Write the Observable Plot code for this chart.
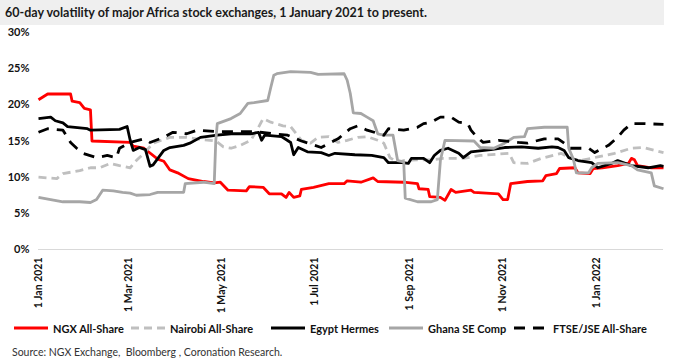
<!DOCTYPE html>
<html><head><meta charset="utf-8">
<script src="https://cdn.jsdelivr.net/npm/d3@7"></script>
<script src="https://cdn.jsdelivr.net/npm/@observablehq/plot@0.6"></script>
<style>
body{margin:0;background:#fff;font-family:Lato,sans-serif;}
#wrap{position:relative;width:681px;height:364px;overflow:hidden;}
#title{position:absolute;left:0;top:0;width:664px;height:25px;background:#efefef;font-weight:bold;font-size:12.5px;line-height:26px;padding-left:5px;box-sizing:border-box;color:#1a1a1a;white-space:nowrap;}
#chart{position:absolute;left:0;top:25px;}
#legend{position:absolute;top:319px;left:0;width:681px;height:18px;}
.item{position:absolute;top:0;display:flex;align-items:center;height:18px;font-weight:bold;font-size:11px;color:#111;white-space:nowrap;}
.item svg{margin-right:5px;}
#source{position:absolute;left:12px;top:346px;font-size:10.5px;color:#333;white-space:nowrap;}
</style></head>
<body>
<div id="wrap">
  <div id="title">60-day volatility of major Africa stock exchanges, 1 January 2021 to present.</div>
  <div id="chart"></div>
  <div id="legend"></div>
  <div id="source">Source: NGX Exchange,&nbsp; Bloomberg , Coronation Research.</div>
</div>
<script>
// ---- data (percent) ----
const seriesNames = ["NGX All-Share", "Nairobi All-Share", "Egypt Hermes", "Ghana SE Comp", "FTSE/JSE All-Share"];

const ngxDates = ["2021-01-01","2021-01-07","2021-01-22","2021-01-23","2021-01-28","2021-01-31","2021-02-04","2021-02-05","2021-03-02","2021-03-04","2021-03-11","2021-03-20","2021-03-24","2021-03-28","2021-04-02","2021-04-09","2021-04-19","2021-04-26","2021-04-30","2021-05-05","2021-05-17","2021-05-19","2021-05-28","2021-06-01","2021-06-09","2021-06-12","2021-06-14","2021-06-17","2021-06-21","2021-06-22","2021-06-30","2021-07-10","2021-07-20","2021-07-22","2021-07-31","2021-08-08","2021-08-11","2021-08-28","2021-09-06","2021-09-07","2021-09-13","2021-09-14","2021-09-21","2021-09-24","2021-09-28","2021-10-01","2021-10-11","2021-10-13","2021-10-29","2021-11-01","2021-11-04","2021-11-06","2021-11-17","2021-11-27","2021-11-29","2021-12-06","2021-12-08","2021-12-18","2021-12-20","2021-12-28","2021-12-30","2022-01-05","2022-01-15","2022-01-22","2022-01-24","2022-01-26","2022-01-28","2022-02-06","2022-02-14"];
const ngxValues = [20.7,21.5,21.5,20.5,20.3,19.5,19.3,15.0,14.8,14.3,14.0,12.5,12.2,11.0,10.6,9.8,9.4,9.2,9.3,8.2,8.1,8.7,8.6,7.7,7.7,7.2,7.9,7.2,7.4,8.3,8.6,9.1,9.1,9.5,9.3,9.9,9.4,9.3,9.1,8.4,8.3,7.3,7.2,6.8,8.3,7.9,8.2,7.9,7.7,6.9,6.9,9.1,9.4,9.5,10.2,10.5,11.2,11.3,10.6,10.5,11.2,11.3,11.6,11.9,12.6,12.4,11.6,11.3,11.3];

const nairobiDates = ["2021-01-01","2021-01-13","2021-01-17","2021-01-28","2021-02-04","2021-02-10","2021-02-17","2021-02-23","2021-03-02","2021-03-06","2021-03-11","2021-03-17","2021-03-28","2021-04-08","2021-04-17","2021-04-27","2021-05-02","2021-05-07","2021-05-13","2021-05-20","2021-05-25","2021-05-28","2021-06-02","2021-06-10","2021-06-15","2021-06-18","2021-06-22","2021-06-28","2021-07-03","2021-07-10","2021-07-16","2021-07-22","2021-07-29","2021-08-04","2021-08-11","2021-08-15","2021-08-19","2021-08-24","2021-08-28","2021-09-06","2021-09-15","2021-09-23","2021-10-06","2021-10-17","2021-11-05","2021-11-08","2021-11-17","2021-11-26","2021-12-09","2021-12-15","2021-12-22","2022-01-02","2022-01-13","2022-01-24","2022-02-01","2022-02-14"];
const nairobiValues = [10.0,9.8,10.5,10.9,11.3,11.3,11.9,11.6,11.3,12.3,13.3,14.7,15.5,15.5,15.2,15.0,14.2,14.0,14.4,15.1,16.9,18.1,17.6,17.1,17.0,16.2,15.1,14.7,15.5,15.6,14.8,15.1,15.5,15.6,15.1,14.7,12.7,12.0,12.3,12.4,12.4,12.6,12.6,13.0,13.3,12.0,11.9,12.6,13.3,12.6,12.3,12.8,13.3,14.0,14.1,13.4];

const egyptDates = ["2021-01-01","2021-01-09","2021-01-12","2021-01-17","2021-01-20","2021-02-02","2021-02-04","2021-02-23","2021-02-28","2021-03-02","2021-03-04","2021-03-08","2021-03-12","2021-03-15","2021-03-17","2021-03-24","2021-03-28","2021-04-06","2021-04-10","2021-04-17","2021-04-28","2021-05-07","2021-05-20","2021-05-25","2021-05-27","2021-05-29","2021-06-09","2021-06-12","2021-06-15","2021-06-17","2021-06-20","2021-06-26","2021-07-05","2021-07-10","2021-07-14","2021-07-27","2021-08-07","2021-08-15","2021-08-18","2021-08-27","2021-08-31","2021-09-02","2021-09-10","2021-09-14","2021-09-17","2021-09-21","2021-09-26","2021-10-03","2021-10-06","2021-10-11","2021-10-24","2021-11-02","2021-11-13","2021-11-24","2021-12-03","2021-12-07","2021-12-11","2021-12-14","2021-12-20","2021-12-29","2022-01-02","2022-01-11","2022-01-15","2022-01-24","2022-02-04","2022-02-12","2022-02-14"];
const egyptValues = [18.1,18.3,17.8,17.5,17.0,16.7,16.5,16.6,17.0,15.1,13.7,14.1,13.8,11.5,11.7,13.7,14.1,14.4,14.7,15.5,15.8,16.0,16.0,16.2,15.1,15.8,15.6,15.2,14.8,13.1,14.1,13.5,13.4,13.0,13.3,13.1,13.0,12.7,12.0,12.0,11.9,12.6,12.6,12.0,13.0,13.7,14.0,13.3,12.7,13.5,13.8,14.1,14.2,14.0,14.2,14.1,13.7,12.7,12.3,12.0,11.3,11.9,12.3,11.6,11.3,11.6,11.5];

const ghanaDates = ["2021-01-01","2021-01-09","2021-01-17","2021-01-28","2021-02-04","2021-02-08","2021-02-12","2021-02-19","2021-02-25","2021-03-02","2021-03-06","2021-03-15","2021-03-20","2021-04-06","2021-04-07","2021-04-19","2021-04-26","2021-04-27","2021-04-28","2021-05-07","2021-05-13","2021-05-18","2021-05-22","2021-05-31","2021-06-02","2021-06-04","2021-06-06","2021-06-15","2021-06-28","2021-07-03","2021-07-20","2021-07-22","2021-07-24","2021-07-26","2021-07-31","2021-08-04","2021-08-08","2021-08-11","2021-08-15","2021-08-21","2021-08-24","2021-08-28","2021-08-29","2021-09-06","2021-09-15","2021-09-19","2021-09-21","2021-09-24","2021-10-13","2021-10-17","2021-10-26","2021-11-02","2021-11-08","2021-11-15","2021-11-17","2021-11-28","2021-12-13","2021-12-14","2021-12-17","2021-12-19","2021-12-27","2021-12-29","2022-01-02","2022-01-15","2022-01-24","2022-01-28","2022-02-06","2022-02-08","2022-02-14"];
const ghanaValues = [7.2,6.9,6.6,6.6,6.5,6.9,8.2,8.1,7.9,7.8,7.5,7.6,7.9,7.9,9.1,9.3,9.1,15.0,17.4,18.1,18.8,20.2,20.3,20.6,22.4,24.1,24.3,24.6,24.5,24.2,24.3,23.4,21.6,18.9,18.8,18.3,17.8,16.0,15.8,15.8,12.3,12.1,7.1,6.6,6.6,6.9,12.3,15.1,15.0,14.1,14.0,14.7,15.5,15.6,16.7,16.9,16.9,14.0,12.5,10.6,10.6,11.3,11.9,12.0,11.6,11.0,10.6,8.8,8.4];

const ftseDates = ["2021-01-01","2021-01-07","2021-01-17","2021-01-22","2021-01-26","2021-01-30","2021-02-08","2021-02-15","2021-02-21","2021-02-23","2021-03-02","2021-03-11","2021-03-15","2021-03-24","2021-03-30","2021-04-08","2021-04-15","2021-04-28","2021-05-22","2021-06-13","2021-06-22","2021-07-05","2021-07-16","2021-07-20","2021-07-24","2021-07-29","2021-08-04","2021-08-15","2021-08-18","2021-08-28","2021-09-06","2021-09-10","2021-09-15","2021-09-21","2021-09-28","2021-10-03","2021-10-09","2021-10-11","2021-10-15","2021-10-19","2021-10-29","2021-11-11","2021-11-17","2021-11-28","2021-12-07","2021-12-11","2021-12-15","2021-12-27","2021-12-31","2022-01-09","2022-01-15","2022-01-19","2022-01-24","2022-02-01","2022-02-14"];
const ftseValues = [16.2,16.7,16.5,14.8,14.0,13.3,12.7,13.0,12.7,14.0,14.8,15.3,14.8,15.5,16.2,16.0,16.5,16.3,16.3,15.8,15.0,14.1,15.3,16.0,16.7,17.1,16.5,15.8,16.7,16.5,16.9,17.4,17.6,18.3,18.3,17.6,17.4,16.5,15.5,14.8,15.1,14.8,14.7,15.3,15.3,14.7,14.0,14.0,13.4,14.4,15.5,16.5,17.4,17.4,17.3];

const yTicks = [0, 5, 10, 15, 20, 25, 30];
const xTickDates = ["2021-01-01","2021-03-01","2021-05-01","2021-07-01","2021-09-01","2021-11-01","2022-01-01"];

// ---- build ----
const seriesData = [ngxDates, nairobiDates, egyptDates, ghanaDates, ftseDates];
const seriesValues = [ngxValues, nairobiValues, egyptValues, ghanaValues, ftseValues];
const styles = [
  {stroke: "#ff0000", dash: null},
  {stroke: "#bfbfbf", dash: "8,5"},
  {stroke: "#000000", dash: null},
  {stroke: "#a6a6a6", dash: null},
  {stroke: "#000000", dash: "11,8"}
];
const rows = seriesNames.map((name, i) =>
  seriesData[i].map((d, j) => ({series: name, date: new Date(d), value: seriesValues[i][j]})));

const marks = [
  Plot.ruleY([0], {stroke: "#d9d9d9", strokeWidth: 1}),
  Plot.axisY({ticks: yTicks, tickFormat: d => d + "%", tickSize: 0, tickPadding: 9, fontWeight: "bold", fontSize: 11, fill: "#111"}),
  Plot.axisX({ticks: xTickDates.map(d => new Date(d)), tickFormat: d3.utcFormat("%-d %b %Y"), tickRotate: -90, tickSize: 0, tickPadding: 8, fontWeight: "bold", fontSize: 10.5, fill: "#111"})
];
rows.forEach((r, i) => {
  marks.push(Plot.line(r, {x: "date", y: "value", stroke: styles[i].stroke, strokeWidth: 2.8,
    strokeDasharray: styles[i].dash || undefined, strokeLinejoin: "round", strokeLinecap: "butt"}));
});

const chart = Plot.plot({
  width: 681, height: 287,
  marginLeft: 38, marginRight: 18, marginTop: 7, marginBottom: 63,
  style: {fontFamily: "Lato, sans-serif", background: "transparent", overflow: "visible"},
  x: {type: "utc", domain: [new Date("2021-01-01"), new Date("2022-02-14")], label: null},
  y: {domain: [0, 30], label: null},
  marks
});
document.getElementById("chart").appendChild(chart);

// legend
const legendX = [14, 131, 271, 389, 514];
const leg = document.getElementById("legend");
seriesNames.forEach((name, i) => {
  const it = document.createElement("div");
  it.className = "item";
  it.style.left = legendX[i] + "px";
  const dash = styles[i].dash ? ` stroke-dasharray="${styles[i].dash}"` : "";
  it.innerHTML = `<svg width="34" height="6"><line x1="0" y1="3" x2="34" y2="3" stroke="${styles[i].stroke}" stroke-width="3"${dash}/></svg><span>${name}</span>`;
  leg.appendChild(it);
});
</script>
</body></html>
